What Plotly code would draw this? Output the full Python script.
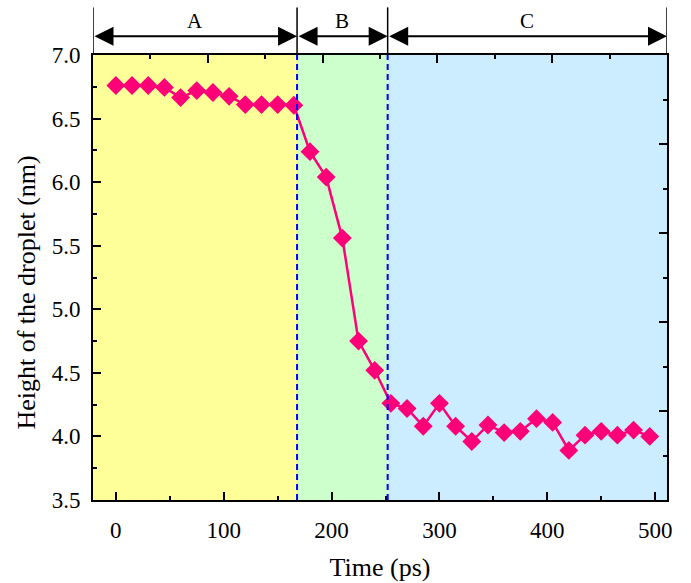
import plotly.graph_objects as go

# ---- data ----
time_ps = [0, 15, 30, 45, 60, 75, 90, 105, 120, 135, 150, 165,
           180, 195, 210, 225, 240,
           255, 270, 285, 300, 315, 330, 345, 360, 375, 390, 405, 420, 435, 450, 465, 480, 495]
height_nm = [6.76, 6.76, 6.76, 6.745, 6.665, 6.72, 6.705, 6.675, 6.61, 6.61, 6.61, 6.605,
             6.24, 6.04, 5.56, 4.75, 4.52,
             4.26, 4.22, 4.08, 4.26, 4.08, 3.96, 4.09, 4.03, 4.04, 4.14, 4.11, 3.89, 4.01, 4.04, 4.01, 4.05, 4.00]

x_range = [-21.2, 511]
y_range = [3.5, 7.0]
stage_bounds = [-21.2, 168, 252, 511]
stage_labels = ["A", "B", "C"]
stage_colors = ["#FFFF99", "#CCFFCC", "#CCECFF"]

FONT = "Liberation Serif"

fig = go.Figure()

fig.add_trace(go.Scatter(
    x=time_ps, y=height_nm, mode="lines+markers",
    line=dict(color="#FF0078", width=2.5),
    marker=dict(symbol="diamond", size=14.5, color="#FF0078"),
    showlegend=False, hoverinfo="x+y",
))
# dummy trace so overlay axes are drawn
fig.add_trace(go.Scatter(x=[None], y=[None], xaxis="x2", yaxis="y2",
                         showlegend=False, hoverinfo="skip"))

shapes = []
annotations = []
for i in range(3):
    x0, x1 = stage_bounds[i], stage_bounds[i + 1]
    shapes.append(dict(type="rect", xref="x", yref="y", x0=x0, x1=x1,
                       y0=y_range[0], y1=y_range[1], fillcolor=stage_colors[i],
                       line=dict(width=0), layer="below"))
    annotations.append(dict(xref="x", yref="paper", x=(x0 + x1) / 2, y=1.076,
                            yanchor="middle", xanchor="center",
                            text=stage_labels[i], showarrow=False,
                            font=dict(family=FONT, size=21, color="black")))
    annotations.append(dict(xref="x", yref="paper", x=x1, y=1.0423,
                            axref="x", ayref="pixel", ax=x0, ay=0,
                            text="", showarrow=True, arrowside="end+start",
                            arrowhead=2, arrowsize=1.9, arrowwidth=2,
                            arrowcolor="black", startarrowhead=2, startarrowsize=1.9))

# y-axis title placed as annotation (slightly below plot centre, as in reference)
annotations.append(dict(xref="paper", yref="paper", x=-0.115, y=0.466,
                        xanchor="center", yanchor="middle", textangle=-90,
                        text="Height of the droplet (nm)", showarrow=False,
                        font=dict(family=FONT, size=26, color="black")))

for xb in stage_bounds:
    shapes.append(dict(type="line", xref="x", yref="paper", x0=xb, x1=xb,
                       y0=1.0, y1=1.107, line=dict(color="black", width=1.5)))
for xb in stage_bounds[1:3]:
    shapes.append(dict(type="line", xref="x", yref="y", x0=xb, x1=xb,
                       y0=y_range[0], y1=y_range[1],
                       line=dict(color="#0000FF", width=2, dash="6px,4px")))

fig.update_layout(
    width=691, height=583,
    margin=dict(l=93, r=24, t=55, b=83),
    paper_bgcolor="white", plot_bgcolor="white",
    font=dict(family=FONT, size=23, color="black"),
    shapes=shapes, annotations=annotations,
    xaxis=dict(range=x_range, tick0=0, dtick=100, ticks="inside", ticklen=8,
               tickwidth=2, tickcolor="black", automargin=False,
               minor=dict(dtick=50, ticks="inside", ticklen=4, tickwidth=2, tickcolor="black"),
               showline=True, linewidth=2, linecolor="black", showgrid=False, zeroline=False,
               ticklabelstandoff=8,
               title=dict(text="Time (ps)", font=dict(family=FONT, size=26), standoff=16)),
    yaxis=dict(range=y_range, tick0=3.5, dtick=0.5, tickformat=".1f", ticks="inside",
               ticklen=8, tickwidth=2, tickcolor="black", automargin=False,
               minor=dict(dtick=0.25, ticks="inside", ticklen=4, tickwidth=2, tickcolor="black"),
               showline=True, linewidth=2, linecolor="black", showgrid=False, zeroline=False,
               ticklabelstandoff=6),
    xaxis2=dict(overlaying="x", side="top", anchor="y2", range=[0, 10], dtick=2,
                ticks="inside", ticklen=8, tickwidth=2, tickcolor="black",
                minor=dict(dtick=1, ticks="inside", ticklen=4, tickwidth=2, tickcolor="black"),
                showticklabels=False, showline=True, linewidth=2, linecolor="black",
                showgrid=False, zeroline=False, automargin=False),
    yaxis2=dict(overlaying="y", side="right", anchor="x2", range=[0, 10], dtick=2,
                ticks="inside", ticklen=8, tickwidth=2, tickcolor="black",
                minor=dict(dtick=1, ticks="inside", ticklen=4, tickwidth=2, tickcolor="black"),
                showticklabels=False, showline=True, linewidth=2, linecolor="black",
                showgrid=False, zeroline=False, automargin=False),
)

fig.write_html("out.html")
